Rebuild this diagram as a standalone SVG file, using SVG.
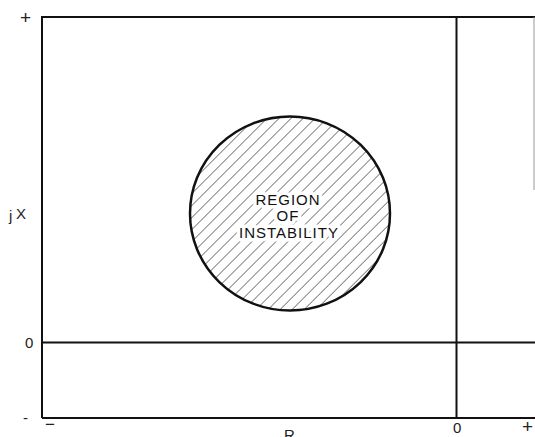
<svg xmlns="http://www.w3.org/2000/svg" width="535" height="437" viewBox="0 0 535 437">
<style>
.ax{stroke:#111;stroke-width:2;fill:none}
.lbl{font-family:"Liberation Sans",Arial,sans-serif;font-size:15px;fill:#222}
.reg{font-family:"Liberation Sans",Arial,sans-serif;font-size:15px;fill:#111;letter-spacing:1px;text-anchor:middle;stroke:#fff;stroke-width:7;stroke-linejoin:round;paint-order:stroke}
</style>
<defs>
<pattern id="hatch" patternUnits="userSpaceOnUse" width="8.5" height="8.5" patternTransform="rotate(45)">
<line x1="0" y1="0" x2="0" y2="8.5" stroke="#333" stroke-width="1.2"/>
</pattern>
</defs>
<rect width="535" height="437" fill="#fff"/>
<g id="axes">
<path class="ax" d="M42,418 V17 H535"/>
<path class="ax" d="M42,418 H535"/>
<path class="ax" d="M42,342.5 H535"/>
<path class="ax" d="M456.5,17 V418"/>
<path d="M534,17 V190" stroke="#999" stroke-width="1"/>
</g>
<g id="region">
<ellipse cx="290" cy="213.5" rx="100" ry="97" fill="url(#hatch)" stroke="#111" stroke-width="2.5"/>
<text class="reg" x="288" y="205">REGION</text>
<text class="reg" x="288" y="221">OF</text>
<text class="reg" x="289" y="238">INSTABILITY</text>
</g>
<g id="labels">
<text class="lbl" x="20" y="24" style="font-size:19px">+</text>
<text class="lbl" x="25" y="348">0</text>
<text class="lbl" x="23" y="423">-</text>
<text class="lbl" x="9" y="221">j</text>
<text class="lbl" x="16" y="219">X</text>
<text class="lbl" x="45" y="430" style="font-size:17px">−</text>
<text class="lbl" x="284" y="440">R</text>
<text class="lbl" x="453" y="433">0</text>
<text class="lbl" x="522" y="433" style="font-size:19px">+</text>
</g>
</svg>
